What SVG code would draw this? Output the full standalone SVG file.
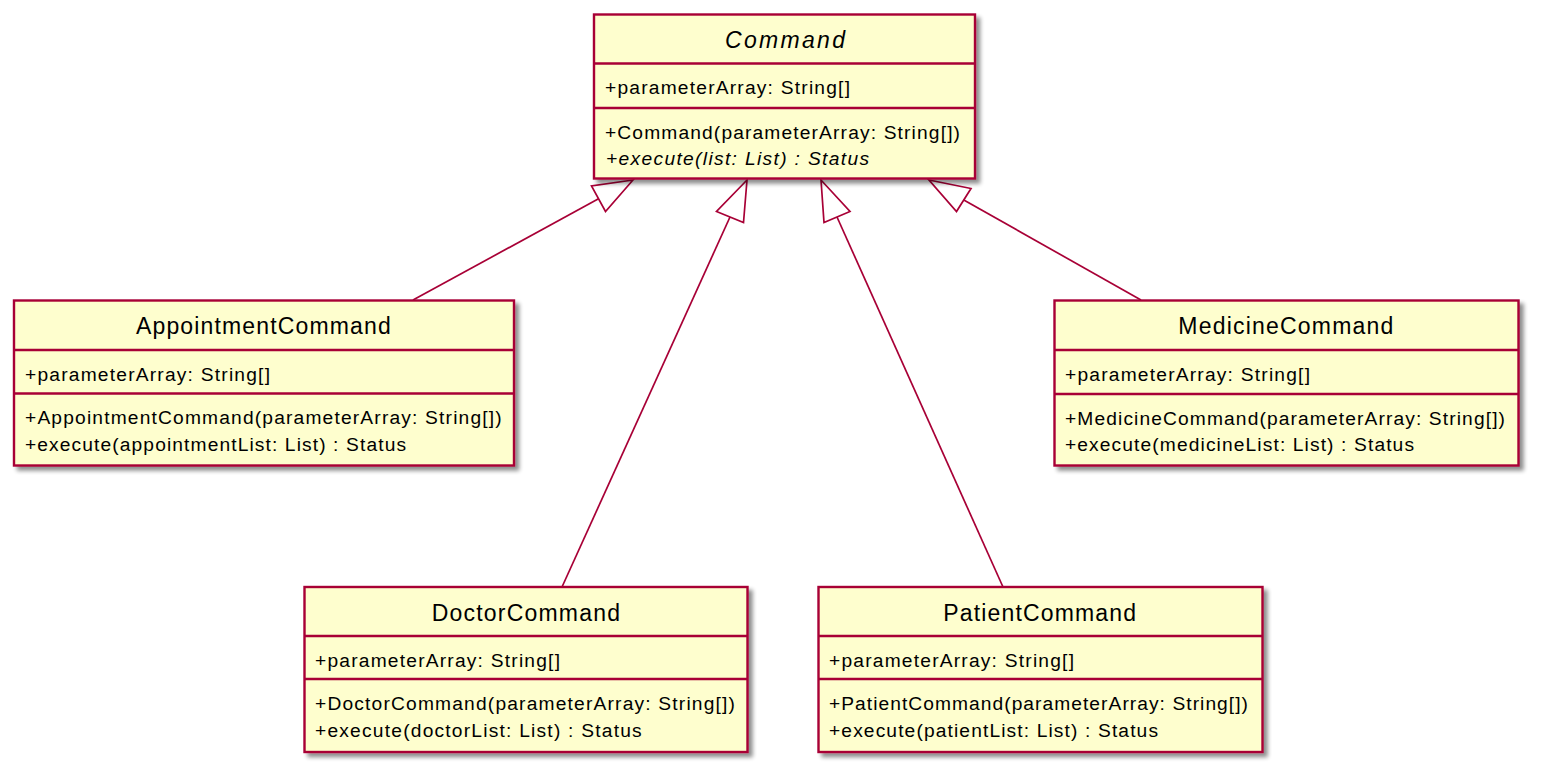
<svg xmlns="http://www.w3.org/2000/svg" width="1544" height="777" viewBox="0 0 1544 777">
<style>
.box{fill:#FEFECE;stroke:#A80036;stroke-width:2.4}
.div{stroke:#A80036;stroke-width:2.4}
.t{font-family:"Liberation Sans",Arial,sans-serif;font-size:23px;fill:#000}
.m{font-family:"Liberation Sans",Arial,sans-serif;font-size:19.2px;fill:#000}
.i{font-style:italic}
.edge{stroke:#A80036;stroke-width:1.7;fill:none}
.head{fill:#FFFFFF;stroke:#A80036;stroke-width:1.7;stroke-linejoin:miter}
</style>
<defs>
<filter id="sh" x="-10%" y="-10%" width="130%" height="130%">
<feGaussianBlur in="SourceAlpha" stdDeviation="2"/>
<feOffset dx="4" dy="4" result="b"/>
<feComponentTransfer in="b" result="c"><feFuncA type="linear" slope="0.45"/></feComponentTransfer>
<feMerge><feMergeNode in="c"/><feMergeNode in="SourceGraphic"/></feMerge>
</filter>
</defs>
<rect width="1544" height="777" fill="#FFFFFF"/>

<g id="connectors">
<line class="edge" x1="413" y1="300" x2="598.5" y2="198.8"/>
<polygon class="head" points="633,180 591.5,186 605.5,211.5"/>
<line class="edge" x1="562" y1="587" x2="730" y2="217"/>
<polygon class="head" points="747,180 716.5,211.5 743.5,222.5"/>
<line class="edge" x1="1003" y1="587" x2="837" y2="217"/>
<polygon class="head" points="821,180 824,222.5 850,211.5"/>
<line class="edge" x1="1141" y1="300" x2="963.8" y2="200"/>
<polygon class="head" points="929,180 971,188.5 956.5,211.5"/>
</g>

<g id="Command">
<rect class="box" x="594" y="14.5" width="381" height="164" filter="url(#sh)"/>
<line class="div" x1="594" y1="63.5" x2="975" y2="63.5"/>
<line class="div" x1="594" y1="108" x2="975" y2="108"/>
<text class="t i" x="725" y="48" textLength="120" lengthAdjust="spacing">Command</text>
<text class="m" x="605" y="94" textLength="245" lengthAdjust="spacing">+parameterArray: String[]</text>
<text class="m" x="605" y="138.5" textLength="355" lengthAdjust="spacing">+Command(parameterArray: String[])</text>
<text class="m i" x="606" y="165" textLength="263" lengthAdjust="spacing">+execute(list: List) : Status</text>
</g>

<g id="AppointmentCommand">
<rect class="box" x="14" y="300.5" width="500" height="165" filter="url(#sh)"/>
<line class="div" x1="14" y1="350" x2="514" y2="350"/>
<line class="div" x1="14" y1="393.5" x2="514" y2="393.5"/>
<text class="t" x="136" y="334" textLength="254.7" lengthAdjust="spacing">AppointmentCommand</text>
<text class="m" x="25" y="380.5" textLength="245" lengthAdjust="spacing">+parameterArray: String[]</text>
<text class="m" x="25" y="424.3" textLength="476.7" lengthAdjust="spacing">+AppointmentCommand(parameterArray: String[])</text>
<text class="m" x="25" y="451" textLength="381" lengthAdjust="spacing">+execute(appointmentList: List) : Status</text>
</g>

<g id="MedicineCommand">
<rect class="box" x="1054.5" y="300.5" width="464" height="165" filter="url(#sh)"/>
<line class="div" x1="1054.5" y1="350" x2="1518.5" y2="350"/>
<line class="div" x1="1054.5" y1="394" x2="1518.5" y2="394"/>
<text class="t" x="1178.3" y="334" textLength="215" lengthAdjust="spacing">MedicineCommand</text>
<text class="m" x="1065" y="380.5" textLength="245" lengthAdjust="spacing">+parameterArray: String[]</text>
<text class="m" x="1065" y="424.5" textLength="440" lengthAdjust="spacing">+MedicineCommand(parameterArray: String[])</text>
<text class="m" x="1065" y="451" textLength="349" lengthAdjust="spacing">+execute(medicineList: List) : Status</text>
</g>

<g id="DoctorCommand">
<rect class="box" x="304.5" y="587" width="443" height="165" filter="url(#sh)"/>
<line class="div" x1="304.5" y1="636" x2="747.5" y2="636"/>
<line class="div" x1="304.5" y1="679" x2="747.5" y2="679"/>
<text class="t" x="431.7" y="620.5" textLength="188.3" lengthAdjust="spacing">DoctorCommand</text>
<text class="m" x="315" y="666.5" textLength="245" lengthAdjust="spacing">+parameterArray: String[]</text>
<text class="m" x="315" y="710" textLength="420" lengthAdjust="spacing">+DoctorCommand(parameterArray: String[])</text>
<text class="m" x="315" y="736.5" textLength="326.7" lengthAdjust="spacing">+execute(doctorList: List) : Status</text>
</g>

<g id="PatientCommand">
<rect class="box" x="818.5" y="587" width="444" height="165" filter="url(#sh)"/>
<line class="div" x1="818.5" y1="636" x2="1262.5" y2="636"/>
<line class="div" x1="818.5" y1="679" x2="1262.5" y2="679"/>
<text class="t" x="943.3" y="620.5" textLength="192.7" lengthAdjust="spacing">PatientCommand</text>
<text class="m" x="829" y="666.5" textLength="245" lengthAdjust="spacing">+parameterArray: String[]</text>
<text class="m" x="829" y="710" textLength="419" lengthAdjust="spacing">+PatientCommand(parameterArray: String[])</text>
<text class="m" x="829" y="736.5" textLength="329" lengthAdjust="spacing">+execute(patientList: List) : Status</text>
</g>
</svg>
